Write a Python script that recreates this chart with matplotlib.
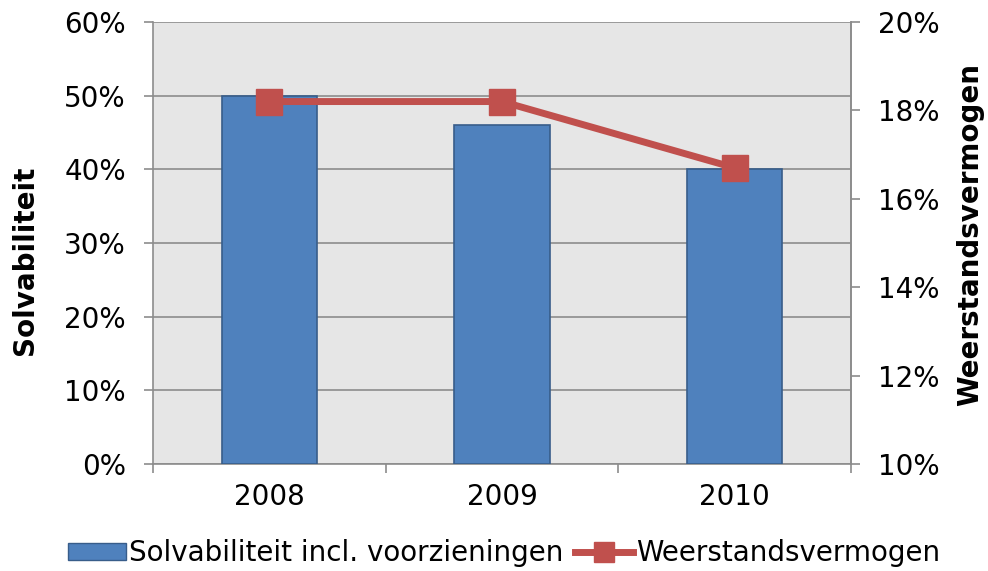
import matplotlib
matplotlib.use("Agg")
import matplotlib.pyplot as plt
from matplotlib.ticker import FuncFormatter
from matplotlib.lines import Line2D
from matplotlib.patches import Patch

# data
years = ["2008", "2009", "2010"]
solvabiliteit = [50, 46, 40]
weerstand = [18.2, 18.2, 16.7]
left_ticks = [0, 10, 20, 30, 40, 50, 60]
right_ticks = [10, 12, 14, 16, 18, 20]

bar_color = "#4f81bd"
bar_edge = "#385d8a"
line_color = "#c0504d"
grid_color = "#8c8c8c"
fs = 20

fig = plt.figure(figsize=(9.88, 5.71), dpi=100)
ax = fig.add_axes([0.1549, 0.1874, 0.7064, 0.7741])
ax.set_facecolor("#e6e6e6")

x = list(range(len(years)))
ax.bar(x, solvabiliteit, width=0.41, color=bar_color, edgecolor=bar_edge,
       linewidth=1.2, zorder=3)
ax.set_xlim(-0.5, len(years) - 0.5)
ax.set_ylim(0, 60)
ax.set_yticks(left_ticks)
ax.yaxis.set_major_formatter(FuncFormatter(lambda v, p: f"{v:.0f}%"))
ax.yaxis.grid(True, color=grid_color, linewidth=1.2, zorder=0)
ax.set_xticks(x)
ax.set_xticklabels(years)
ax.set_xticks([i - 0.5 for i in range(len(years) + 1)], minor=True)
ax.tick_params(axis="x", which="major", length=0, pad=14, labelsize=fs)
ax.tick_params(axis="x", which="minor", length=6.5, width=1.2, color=grid_color)
ax.tick_params(axis="y", length=6.5, width=1.2, color=grid_color, labelsize=fs, pad=13)
for s in ["left", "bottom", "right"]:
    ax.spines[s].set_color(grid_color)
    ax.spines[s].set_linewidth(1.2)
ax.spines["top"].set_visible(False)
ax.set_ylabel("Solvabiliteit", fontsize=fs, fontweight="bold", labelpad=18)
ax.yaxis.label.set_y(0.46)

ax2 = ax.twinx()
ax2.plot(x, weerstand, color=line_color, linewidth=5, marker="s",
         markersize=19, zorder=4)
ax2.set_ylim(10, 20)
ax2.set_yticks(right_ticks)
ax2.yaxis.set_major_formatter(FuncFormatter(lambda v, p: f"{v:.0f}%"))
ax2.tick_params(axis="y", length=6.5, width=1.2, color=grid_color, labelsize=fs, pad=13)
for s in ["left", "bottom", "top"]:
    ax2.spines[s].set_visible(False)
ax2.spines["right"].set_color(grid_color)
ax2.spines["right"].set_linewidth(1.2)
ax2.set_ylabel("Weerstandsvermogen", fontsize=fs, fontweight="bold", labelpad=12)
ax2.yaxis.label.set_y(0.52)

handles = [Patch(facecolor=bar_color, edgecolor=bar_edge),
           Line2D([0], [0], color=line_color, linewidth=5, marker="s", markersize=14)]
fig.legend(handles, ["Solvabiliteit incl. voorzieningen", "Weerstandsvermogen"],
           loc="center", bbox_to_anchor=(0.51, 0.031), ncol=2, frameon=False,
           fontsize=fs, handlelength=2.1, handleheight=0.6,
           handletextpad=0.1, columnspacing=0.4)

fig.savefig("out.png", dpi=100)
